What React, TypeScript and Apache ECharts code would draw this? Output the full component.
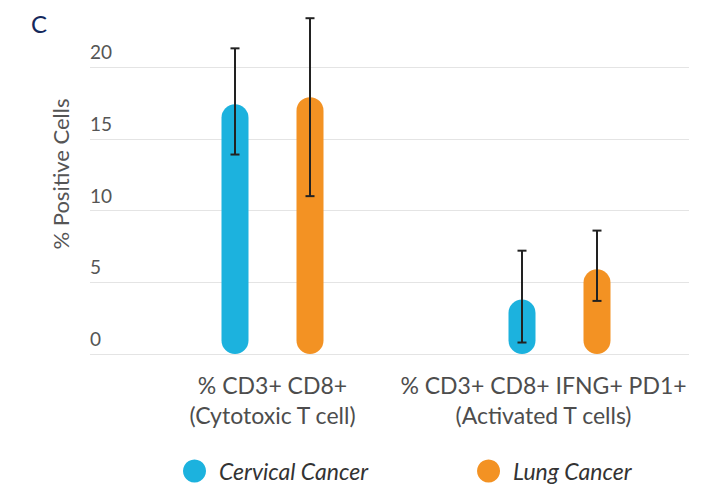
import React, { useEffect, useRef } from "react";
import * as echarts from "echarts";

const categories = ["% CD3+ CD8+\n(Cytotoxic T cell)", "% CD3+ CD8+ IFNG+ PD1+\n(Activated T cells)"];
const seriesNames = ["Cervical Cancer", "Lung Cancer"];
const cervicalMean = [17.4, 3.8];
const cervicalLow = [13.9, 0.8];
const cervicalHigh = [21.3, 7.2];
const lungMean = [17.9, 5.9];
const lungLow = [11.0, 3.7];
const lungHigh = [23.4, 8.6];
const yTicks = [0, 5, 10, 15, 20];

const FONT = "Lato, 'Open Sans', sans-serif";
const BAR_W = 27;
const BAR_GAP_PX = 48;
const COLORS = ["#1cb2de", "#f39223"];

export default function App() {
  const ref = useRef<HTMLDivElement>(null);
  useEffect(() => {
    if (!ref.current) return;
    const chart = echarts.init(ref.current, undefined, { renderer: "svg" });
    const offset = (BAR_W + BAR_GAP_PX) / 2;
    const errSeries = (low: number[], high: number[], dx: number) => ({
      type: "custom",
      xAxisIndex: 1,
      yAxisIndex: 1,
      silent: true,
      z: 10,
      data: low.map((l, i) => [i, l, high[i]]),
      renderItem: (params: any, api: any) => {
        const c = api.value(0);
        const p1 = api.coord([c, api.value(1)]);
        const p2 = api.coord([c, api.value(2)]);
        const x = p1[0] + dx;
        const st = { stroke: "#222", lineWidth: 2 };
        return {
          type: "group",
          children: [
            { type: "line", shape: { x1: x, y1: p1[1], x2: x, y2: p2[1] }, style: st },
            { type: "line", shape: { x1: x - 4.5, y1: p1[1], x2: x + 4.5, y2: p1[1] }, style: st },
            { type: "line", shape: { x1: x - 4.5, y1: p2[1], x2: x + 4.5, y2: p2[1] }, style: st },
          ],
        };
      },
    });
    const labelStyle = { fontSize: 23, lineHeight: 30, color: "#4d4d4d", fontFamily: FONT };
    chart.setOption({
      animation: false,
      backgroundColor: "#fff",
      textStyle: { fontFamily: FONT },
      grid: [
        { left: 90, right: 14, top: 67, bottom: 133, outerBoundsMode: "none", containLabel: false },
        { left: 129, right: 0, top: 354 - (24 * 287) / 20, bottom: 133, outerBoundsMode: "none", containLabel: false },
      ],
      xAxis: [
        { gridIndex: 0, type: "category", data: categories, show: false },
        {
          gridIndex: 1,
          type: "category",
          data: categories,
          axisLine: { show: false },
          axisTick: { show: false },
          axisLabel: {
            interval: 0,
            hideOverlap: false,
            margin: 16,
            ...labelStyle,
            formatter: (v: string, i: number) => {
              const lines = v.split("\n");
              const style = i === 0 ? "a" : "b";
              return lines.map((l) => `{${style}|${l}}`).join("\n");
            },
            rich: {
              a: { ...labelStyle },
              b: { ...labelStyle, padding: [0, 32, 0, 0] },
            },
          },
        },
      ],
      yAxis: [
        {
          gridIndex: 0,
          type: "value",
          min: yTicks[0],
          max: yTicks[yTicks.length - 1],
          interval: yTicks[1] - yTicks[0],
          axisLine: { show: false },
          axisTick: { show: false },
          splitLine: { lineStyle: { color: "#e4e4e4", width: 1 } },
          axisLabel: {
            inside: true,
            margin: 0,
            align: "left",
            verticalAlign: "bottom",
            padding: [0, 0, 6, 0],
            fontSize: 19,
            color: "#555",
            fontFamily: FONT,
          },
        },
        { gridIndex: 1, type: "value", min: 0, max: 24, show: false },
      ],
      legend: {
        data: seriesNames,
        left: 183,
        top: 459,
        padding: 0,
        icon: "circle",
        itemWidth: 23,
        itemHeight: 23,
        itemGap: 109,
        textStyle: {
          fontSize: 23,
          lineHeight: 24,
          fontStyle: "italic",
          color: "#333",
          fontFamily: FONT,
          padding: [0, 0, 0, 8],
        },
      },
      graphic: [
        {
          type: "text",
          left: 31,
          top: 11,
          style: { text: "C", fontSize: 24, fill: "#15285c", fontFamily: FONT },
        },
        {
          type: "text",
          x: 60,
          y: 174,
          rotation: Math.PI / 2,
          style: {
            text: "% Positive Cells",
            fontSize: 22,
            fill: "#555",
            fontFamily: FONT,
            align: "center",
            verticalAlign: "middle",
          },
        },
      ],
      series: [
        {
          name: seriesNames[0],
          type: "bar",
          xAxisIndex: 1,
          yAxisIndex: 1,
          data: cervicalMean,
          barWidth: BAR_W,
          barGap: `${(BAR_GAP_PX / BAR_W) * 100}%`,
          itemStyle: { color: COLORS[0], borderRadius: BAR_W / 2 },
        },
        {
          name: seriesNames[1],
          type: "bar",
          xAxisIndex: 1,
          yAxisIndex: 1,
          data: lungMean,
          barWidth: BAR_W,
          barGap: `${(BAR_GAP_PX / BAR_W) * 100}%`,
          itemStyle: { color: COLORS[1], borderRadius: BAR_W / 2 },
        },
        errSeries(cervicalLow, cervicalHigh, -offset),
        errSeries(lungLow, lungHigh, offset),
      ],
    });
    return () => chart.dispose();
  }, []);
  return <div ref={ref} style={{ position: "fixed", left: 0, top: 0, width: 703, height: 487 }} />;
}
